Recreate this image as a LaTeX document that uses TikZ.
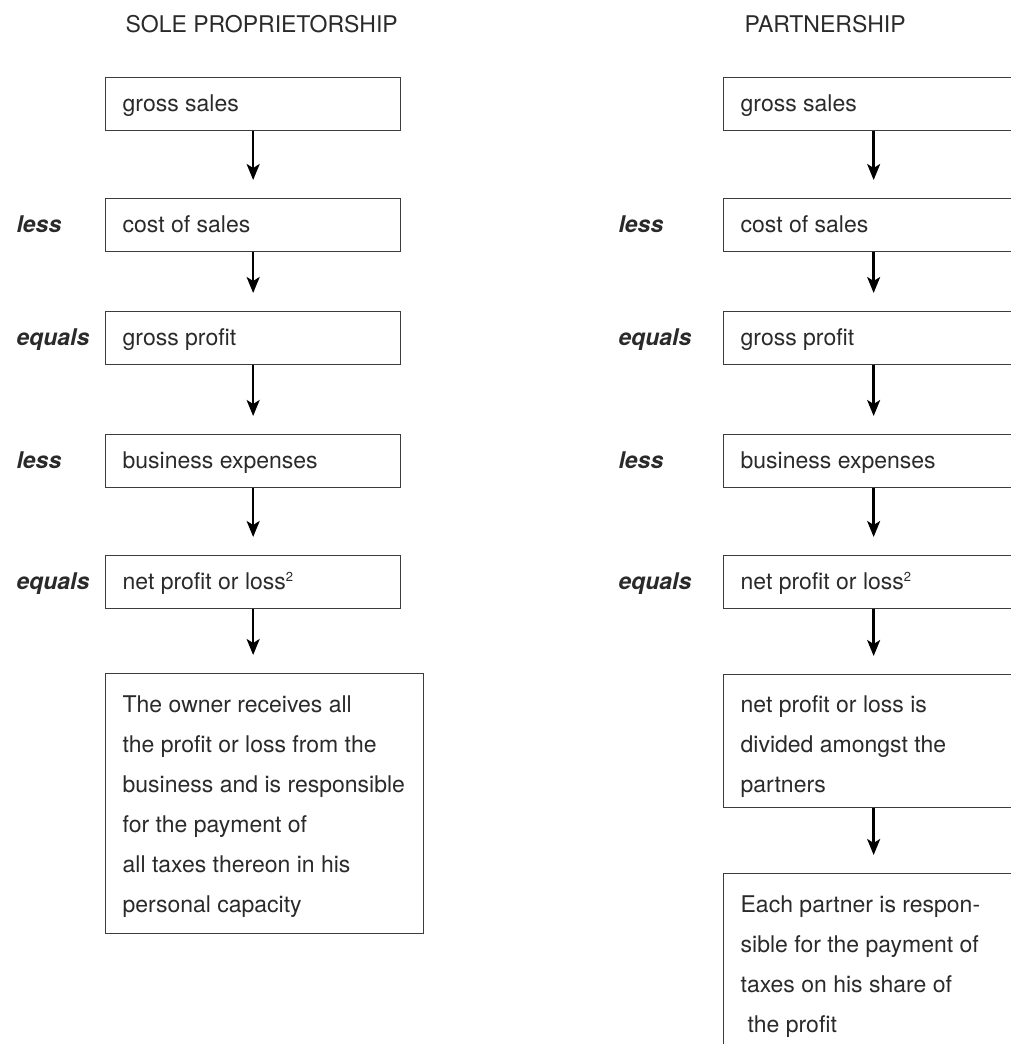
\documentclass[tikz,border=0pt]{standalone}
\usepackage{fontspec}
\setmainfont{TeX Gyre Heros}
\usetikzlibrary{arrows.meta}
\definecolor{txt}{HTML}{2A2A2A}
\definecolor{edge}{HTML}{3C3C3C}
% #1 width, #2 height, #3 first-line strut, #4 text
\newcommand{\bxt}[4]{\parbox[c][#2][t]{#1}{\rule{0pt}{#3}#4}}
\newcommand{\supmark}[1]{\raisebox{8pt}{\fontsize{13}{13}\selectfont #1}}
\begin{document}
\begin{tikzpicture}[x=1pt,y=-1pt,
  font=\fontsize{23}{40}\selectfont, text=txt,
  box/.style={draw=edge, line width=1.3pt, anchor=north west, inner xsep=17pt, inner ysep=0pt},
  lab/.style={anchor=base west, font=\fontsize{23}{40}\selectfont\bfseries\itshape},
  ttl/.style={anchor=base west},
  flow/.style={draw=black, line width=2.4pt, -{Stealth[length=16pt,width=13pt,inset=4pt]}, shorten >=18pt}]
\useasboundingbox (0,0) rectangle (1011,1044);
\clip (0,0) rectangle (1011,1044);

% titles
\node[ttl] (tl) at (122,32) {SOLE PROPRIETORSHIP};
\node[ttl] (tr) at (741,32) {PARTNERSHIP};

% left column
\node[box] (l1) at (105,77)  {\bxt{261pt}{53pt}{34pt}{gross sales}};
\node[box] (l2) at (105,198) {\bxt{261pt}{53pt}{34pt}{cost of sales}};
\node[box] (l3) at (105,311) {\bxt{261pt}{53pt}{34pt}{gross profit}};
\node[box] (l4) at (105,434) {\bxt{261pt}{53pt}{34pt}{business expenses}};
\node[box] (l5) at (105,555) {\bxt{261pt}{53pt}{34pt}{net profit or loss\supmark{2}}};
\node[box] (l6) at (105,673) {\bxt{284pt}{260pt}{39pt}{The owner receives all\\the profit or loss from the\\business and is responsible\\for the payment of\\all taxes thereon in his\\personal capacity}};

\node[lab] (ll2) at (13,232) {less};
\node[lab] (ll3) at (13,345) {equals};
\node[lab] (ll4) at (13,468) {less};
\node[lab] (ll5) at (13,589) {equals};

\draw[flow] (l1.south) -- (l2.north);
\draw[flow] (l2.south) -- (l3.north);
\draw[flow] (l3.south) -- (l4.north);
\draw[flow] (l4.south) -- (l5.north);
\draw[flow] (l5.south) -- (l5.south |- l6.north);

% right column
\node[box] (r1) at (723,77)  {\bxt{266pt}{53pt}{34pt}{gross sales}};
\node[box] (r2) at (723,198) {\bxt{266pt}{53pt}{34pt}{cost of sales}};
\node[box] (r3) at (723,311) {\bxt{266pt}{53pt}{34pt}{gross profit}};
\node[box] (r4) at (723,434) {\bxt{266pt}{53pt}{34pt}{business expenses}};
\node[box] (r5) at (723,555) {\bxt{266pt}{53pt}{34pt}{net profit or loss\supmark{2}}};
\node[box] (r6) at (723,674) {\bxt{266pt}{133pt}{38pt}{net profit or loss is\\divided amongst the\\partners}};
\node[box] (r7) at (723,873) {\bxt{266pt}{200pt}{39pt}{Each partner is respon-\\sible for the payment of\\taxes on his share of\\\hspace*{7pt}the profit}};

\node[lab] (rl2) at (615,232) {less};
\node[lab] (rl3) at (615,345) {equals};
\node[lab] (rl4) at (615,468) {less};
\node[lab] (rl5) at (615,589) {equals};

\draw[flow] (r1.south) -- (r2.north);
\draw[flow] (r2.south) -- (r3.north);
\draw[flow] (r3.south) -- (r4.north);
\draw[flow] (r4.south) -- (r5.north);
\draw[flow] (r5.south) -- (r6.north);
\draw[flow] (r6.south) -- (r7.north);
\end{tikzpicture}
\end{document}
